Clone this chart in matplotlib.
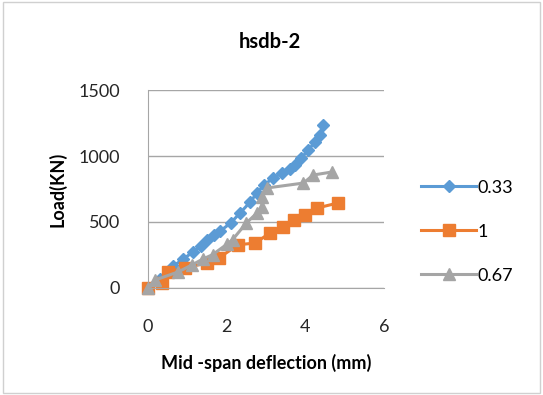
import matplotlib.pyplot as plt
from matplotlib.patches import Rectangle

plt.rcParams['font.family'] = ['Lato', 'DejaVu Sans']

# series 0.33
x_a = [0, 0.3, 0.64, 0.9, 1.15, 1.35, 1.5, 1.67, 1.83, 2.1, 2.34, 2.6, 2.77, 2.95, 3.18, 3.4, 3.6, 3.74, 3.9, 4.07, 4.25, 4.38, 4.46]
y_a = [0, 70, 165, 220, 274, 320, 366, 400, 430, 492, 568, 652, 720, 780, 833, 871, 900, 932, 985, 1045, 1106, 1159, 1235]
# series 1
x_b = [0, 0.36, 0.5, 0.95, 1.5, 1.8, 2.3, 2.72, 3.1, 3.44, 3.7, 4.0, 4.3, 4.83]
y_b = [0, 38, 122, 152, 190, 228, 328, 340, 416, 462, 515, 553, 606, 644]
# series 0.67
x_c = [0, 0.18, 0.77, 1.12, 1.4, 1.64, 2.0, 2.15, 2.5, 2.77, 2.9, 2.9, 3.03, 3.95, 4.2, 4.68]
y_c = [0, 60, 122, 175, 220, 252, 330, 366, 492, 568, 614, 690, 758, 795, 856, 879]

fig = plt.figure(figsize=(5.43, 3.95), dpi=100)
ax = fig.add_axes([0.2726, 0.271, 0.4345, 0.501])

ax.plot(x_a, y_a, '-D', color='#5B9BD5', lw=2.2, ms=6.5, label='0.33', clip_on=False)
ax.plot(x_b, y_b, '-s', color='#ED7D31', lw=2.2, ms=9, label='1', clip_on=False)
ax.plot(x_c, y_c, '-^', color='#A5A5A5', lw=2.2, ms=9, label='0.67', clip_on=False)

ax.set_xlim(0, 6)
ax.set_ylim(0, 1500)
ax.set_xticks([0, 2, 4, 6])
ax.set_yticks([0, 500, 1000, 1500])
ax.grid(axis='y', color='#A6A6A6', lw=1)
ax.set_axisbelow(True)
ax.tick_params(length=0, labelsize=13, colors='#262626')
ax.tick_params(axis='y', pad=20)
ax.tick_params(axis='x', pad=22)
for s in ['top', 'right']:
    ax.spines[s].set_visible(False)
for s in ['left', 'bottom']:
    ax.spines[s].set_color('#A6A6A6')

fig.text(270 / 543, 1 - 42 / 395, 'hsdb-2', fontsize=14.5, fontweight='bold', ha='center', va='center')
ax.set_xlabel('Mid -span deflection (mm)', fontsize=13, fontweight='bold', labelpad=14)
ax.set_ylabel('Load(KN)', fontsize=13, fontweight='bold', labelpad=9)

ax.legend(loc='center left', bbox_to_anchor=(1.09, 0.285), frameon=False, fontsize=13,
          labelspacing=1.55, handlelength=3, handletextpad=0.1)

fig.patches.append(Rectangle((0.005, 0.005), 0.99, 0.99, transform=fig.transFigure,
                             fill=False, edgecolor='#D0D0D0', lw=1))

fig.savefig('out.png', dpi=100)
